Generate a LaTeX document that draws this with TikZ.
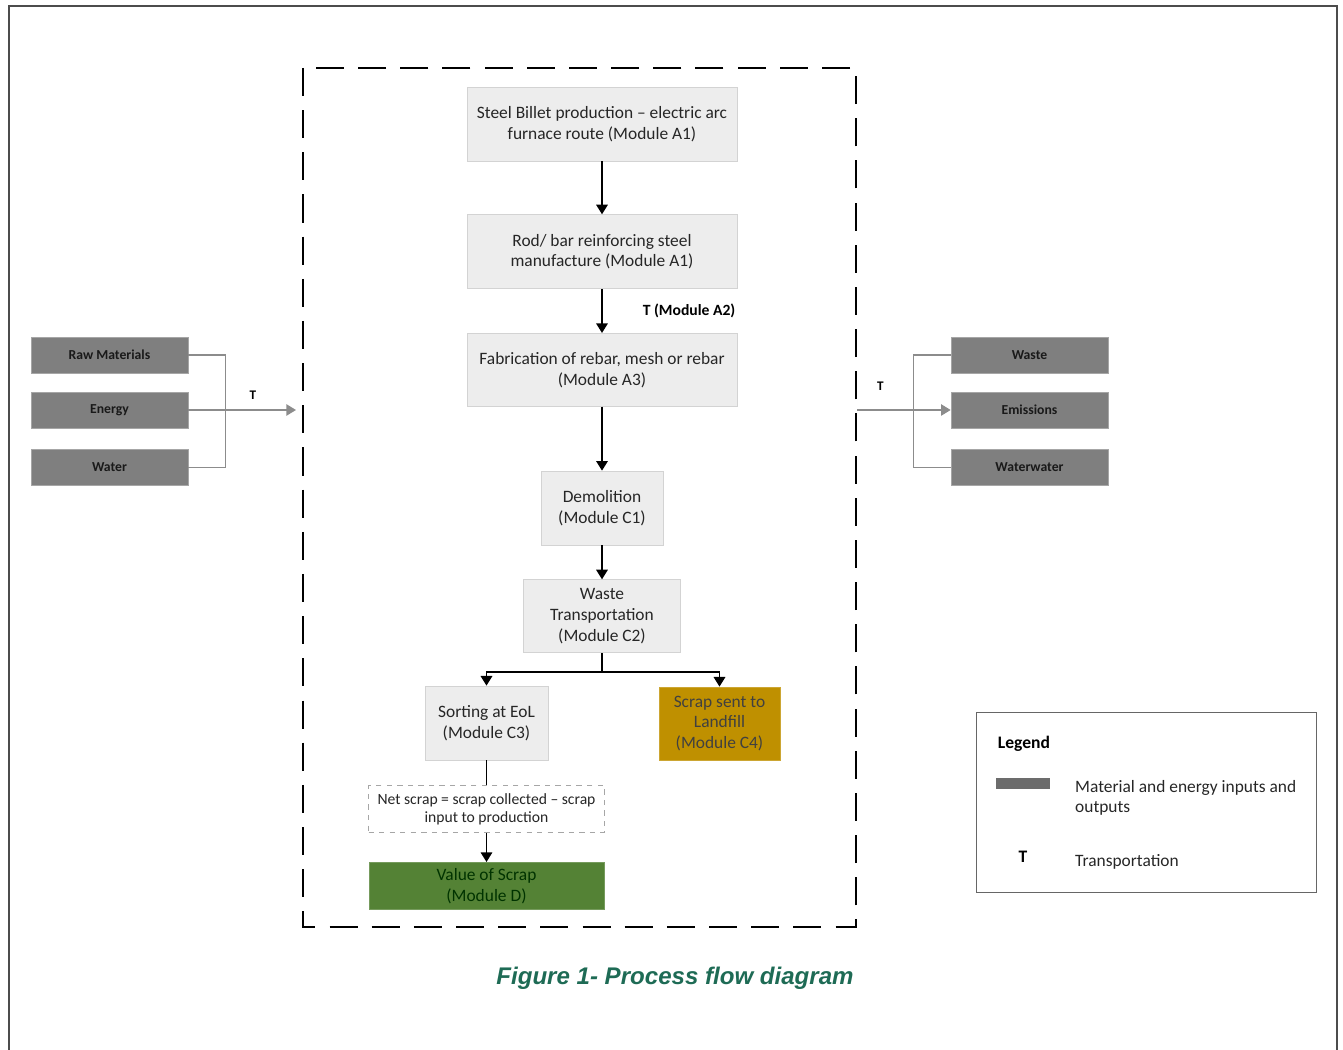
\documentclass[tikz,border=0pt]{standalone}
\usepackage{fontspec}
\setmainfont{Carlito}
\newfontfamily\captionfont{Liberation Sans}
\usetikzlibrary{positioning, arrows.meta}

\definecolor{boxgray}{HTML}{EDEDED}
\definecolor{boxline}{HTML}{D3D3D3}
\definecolor{iogray}{HTML}{7F7F7F}
\definecolor{ioline}{HTML}{A6A6A6}
\definecolor{landgold}{HTML}{BF9000}
\definecolor{scrapgreen}{HTML}{548235}
\definecolor{capgreen}{HTML}{1E6B55}
\definecolor{linkgray}{HTML}{8C8C8C}

\tikzset{
  stage/.style = {rectangle, draw = boxline, fill = boxgray, align = center, text = black!85, font = \fontsize{9.9}{11.8}\selectfont},
  iobox/.style = {rectangle, draw = ioline, fill = iogray, minimum width = 3.14cm, minimum height = 0.72cm, text = black!90, font = \fontsize{7.8}{9}\selectfont\bfseries},
  flow/.style = {->, line width = 1.1pt, black},
  link/.style = {line width = 0.8pt, linkgray},
}

\begin{document}
\begin{tikzpicture}[x = 0.02cm, y = -0.02cm, >={Triangle[length=5.5pt, width=6.5pt]}]
        \useasboundingbox (0, 0) rectangle (1343, 1050);
        \draw[line width = 1.1pt, black!70] (9, 1050) -- (9, 6) -- (1337, 6) -- (1337, 1050);
        \draw[line width = 1.1pt, dash pattern = on 16pt off 8pt] (303, 68) rectangle (856, 927);

        % life cycle stages
        \node[stage, minimum width = 5.4cm, minimum height = 1.48cm] (billet) at (602, 124) {Steel Billet production – electric arc\\furnace route (Module A1)};
        \node[stage, minimum width = 5.4cm, minimum height = 1.48cm] (rod) [below = 1.06cm of billet] {Rod/ bar reinforcing steel\\manufacture (Module A1)};
        \node[stage, minimum width = 5.4cm, minimum height = 1.46cm] (fab) [below = 0.88cm of rod] {Fabrication of rebar, mesh or rebar\\(Module A3)};
        \node[stage, minimum width = 2.44cm, minimum height = 1.48cm] (demo) [below = 1.28cm of fab] {Demolition\\(Module C1)};
        \node[stage, minimum width = 3.14cm, minimum height = 1.46cm] (wtrans) [below = 0.68cm of demo] {Waste\\Transportation\\(Module C2)};
        \node[stage, minimum width = 2.46cm, minimum height = 1.48cm] (sort) at (486.5, 723) {Sorting at EoL\\(Module C3)};
        \node[stage, draw = landgold!80, fill = landgold, text = black!75, minimum width = 2.42cm, minimum height = 1.46cm] (land) at (719.5, 723.5) {Scrap sent to\\Landfill\\(Module C4)};
        \node[rectangle, draw = black!35, dashed, fill = white, align = center, text = black!85, font = \fontsize{8.9}{10.5}\selectfont, minimum width = 4.72cm, minimum height = 0.94cm] (net) [below = 0.5cm of sort] {Net scrap = scrap collected – scrap\\input to production};
        \node[stage, draw = scrapgreen!80, fill = scrapgreen, text = black!80!green, minimum width = 4.7cm, minimum height = 0.92cm] (value) [below = 0.58cm of net] {Value of Scrap\\(Module D)};

        \draw[flow] (billet) -- (rod);
        \draw[flow] (rod) -- node[right = 0.68cm, font = \fontsize{8.9}{10}\selectfont\bfseries] {T (Module A2)} (fab);
        \draw[flow] (fab) -- (demo);
        \draw[flow] (demo) -- (wtrans);
        \draw[line width = 1.1pt] (wtrans.south) -- ++(0, 19) coordinate (split);
        \draw[flow] (split) -| (sort.north);
        \draw[flow] (split) -| (land.north);
        \draw[line width = 1.1pt] (sort) -- (net);
        \draw[flow] (net) -- (value);

        % inputs
        \node[iobox] (raw) at (109.5, 355) {Raw Materials};
        \node[iobox] (energy) at (109.5, 410) {Energy};
        \node[iobox] (water) at (109.5, 467.5) {Water};
        \coordinate (inT) at (296, 410);
        \draw[link] (raw.east) -- ++(37, 0) |- (water.east);
        \draw[link, ->] (energy.east) -- node[pos = 0.6, above = 2pt, text = black, font = \fontsize{7.5}{8}\selectfont\bfseries] {T} (inT);

        % outputs
        \node[iobox] (waste) at (1029.5, 355) {Waste};
        \node[iobox] (emis) at (1029.5, 410) {Emissions};
        \node[iobox] (wwater) at (1029.5, 467.5) {Waterwater};
        \coordinate (outT) at (857, 410);
        \draw[link, ->] (outT) -- node[pos = 0.25, above = 0.26cm, text = black, font = \fontsize{7.5}{8}\selectfont\bfseries] {T} (emis.west);
        \draw[link] (waste.west) -- ++(-37, 0) |- (wwater.west);

        % legend
        \node[rectangle, draw = black!60, minimum width = 6.8cm, minimum height = 3.6cm] (legend) at (1146, 802) {};
        \node[font = \fontsize{10}{11}\selectfont\bfseries] (legtitle) at (1024, 744) {Legend};
        \node[fill = iogray!85!black, minimum width = 1.08cm, minimum height = 0.22cm, inner sep = 0pt] (legbar) at (1023, 783.5) {};
        \node[anchor = west, align = left, text = black!85, font = \fontsize{9.9}{11.3}\selectfont] (legio) at (1069, 798) {Material and energy inputs and\\outputs};
        \node[font = \fontsize{10}{11}\selectfont\bfseries] (legT) at (1023, 857) {T};
        \node[anchor = west, text = black!85, font = \fontsize{9.9}{11}\selectfont] (legtrans) at (1069, 862) {Transportation};

        \node[text = capgreen, font = \captionfont\fontsize{13.7}{15}\selectfont\bfseries\itshape] (caption) at (675, 978) {Figure 1- Process flow diagram};
      \end{tikzpicture}
\end{document}
